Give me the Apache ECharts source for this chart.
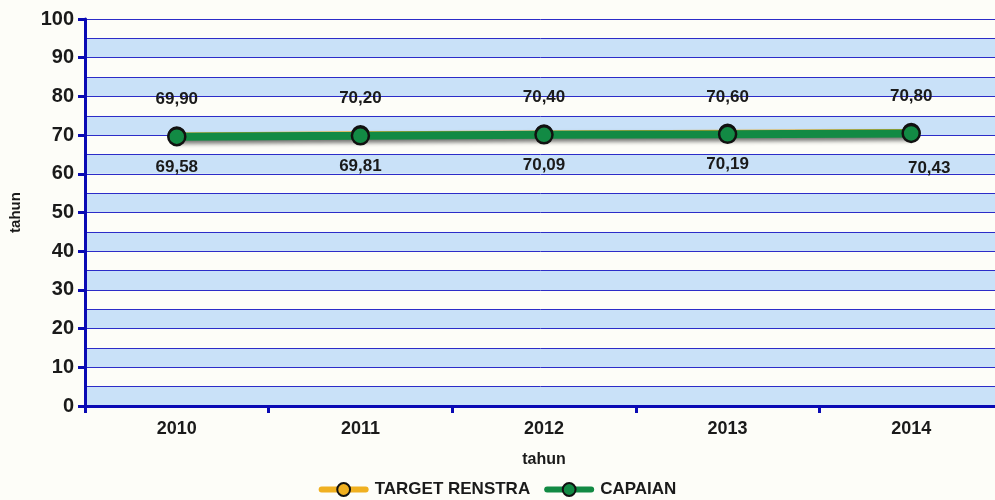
<!DOCTYPE html>
<html>
<head>
<meta charset="utf-8">
<script src="https://cdn.jsdelivr.net/npm/echarts@6/dist/echarts.min.js"></script>
<style>
  html, body { margin: 0; padding: 0; background: #fdfdf8; }
  #chart { width: 995px; height: 500px; }
</style>
</head>
<body>
<div id="chart"></div>
<script>
const years = ['2010', '2011', '2012', '2013', '2014'];
const targetRenstra = [69.90, 70.20, 70.40, 70.60, 70.80];
const capaian = [69.58, 69.81, 70.09, 70.19, 70.43];

const fmt = (v) => v.toFixed(2).replace('.', ',');
const font = 'Liberation Sans, Arial, sans-serif';
const axisBlue = '#0a0ab4';
const textColor = '#1a1a1a';

const chart = echarts.init(document.getElementById('chart'));

// last capaian label sits a little to the right in the original
const capaianData = capaian.map((v, i) => (
  i === capaian.length - 1 ? { value: v, label: { offset: [18, 5] } } : v
));

chart.setOption({
  backgroundColor: '#fdfdf8',
  animation: false,
  textStyle: { fontFamily: font },
  grid: { left: 85, width: 918, top: 19, bottom: 94, containLabel: false, outerBoundsMode: 'none' },
  legend: {
    bottom: -3,
    left: 'center',
    itemWidth: 44,
    itemHeight: 16,
    itemGap: 14,
    lineStyle: { width: 6, cap: 'round' },
    textStyle: { fontSize: 17, fontWeight: 'bold', color: textColor, fontFamily: font, padding: [0, 0, 0, 4] },
    data: ['TARGET RENSTRA', 'CAPAIAN'],
  },
  xAxis: {
    type: 'category',
    data: years,
    boundaryGap: true,
    name: 'tahun',
    nameLocation: 'middle',
    nameGap: 46,
    nameTextStyle: { fontSize: 16, fontWeight: 'bold', color: textColor },
    axisLine: { lineStyle: { color: axisBlue, width: 3 } },
    axisTick: { show: true, alignWithLabel: false, interval: 0, length: 7, lineStyle: { color: axisBlue, width: 3 } },
    axisLabel: { fontSize: 18, fontWeight: 'bold', color: textColor, margin: 14 },
  },
  yAxis: [
    {
      type: 'value',
      min: 0,
      max: 100,
      interval: 5,
      name: 'tahun',
      nameLocation: 'middle',
      nameGap: 62,
      nameRotate: 90,
      nameTextStyle: { fontSize: 15, fontWeight: 'bold', color: textColor },
      axisLine: { show: true, lineStyle: { color: axisBlue, width: 3 } },
      axisTick: { show: false },
      axisLabel: {
        fontSize: 20,
        fontWeight: 'bold',
        color: textColor,
        margin: 11,
        formatter: (v) => (v % 10 === 0 ? String(v) : ''),
      },
      splitLine: { show: true, lineStyle: { color: '#2c2cc8', width: 1 } },
      splitArea: { show: true, areaStyle: { color: ['#c9e1f8', '#fdfdf8'] } },
    },
    {
      // ticks only at every 10
      type: 'value',
      position: 'left',
      min: 0,
      max: 100,
      interval: 10,
      axisLine: { show: false },
      axisTick: { show: true, length: 7, lineStyle: { color: axisBlue, width: 3 } },
      axisLabel: { show: false },
      splitLine: { show: false },
      splitArea: { show: false },
    },
  ],
  series: [
    {
      name: 'TARGET RENSTRA',
      type: 'line',
      data: targetRenstra,
      z: 2,
      symbol: 'circle',
      symbolSize: 16,
      color: '#f0b020',
      lineStyle: { color: '#f0b020', width: 6 },
      itemStyle: { color: '#f0b020', borderColor: '#111', borderWidth: 2.5 },
      label: {
        show: true,
        position: 'top',
        distance: 18,
        fontSize: 17,
        fontWeight: 'bold',
        color: textColor,
        formatter: (p) => fmt(p.value),
      },
    },
    {
      name: 'CAPAIAN',
      type: 'line',
      data: capaianData,
      z: 3,
      symbol: 'circle',
      symbolSize: 17,
      color: '#128a44',
      lineStyle: {
        color: '#128a44',
        width: 8,
        shadowColor: 'rgba(0,0,0,0.55)',
        shadowBlur: 4,
        shadowOffsetY: 3,
      },
      itemStyle: { color: '#128a44', borderColor: '#111', borderWidth: 2.5 },
      label: {
        show: true,
        position: 'bottom',
        distance: 12,
        fontSize: 17,
        fontWeight: 'bold',
        color: textColor,
        formatter: (p) => fmt(p.value),
      },
    },
  ],
});
</script>
</body>
</html>
